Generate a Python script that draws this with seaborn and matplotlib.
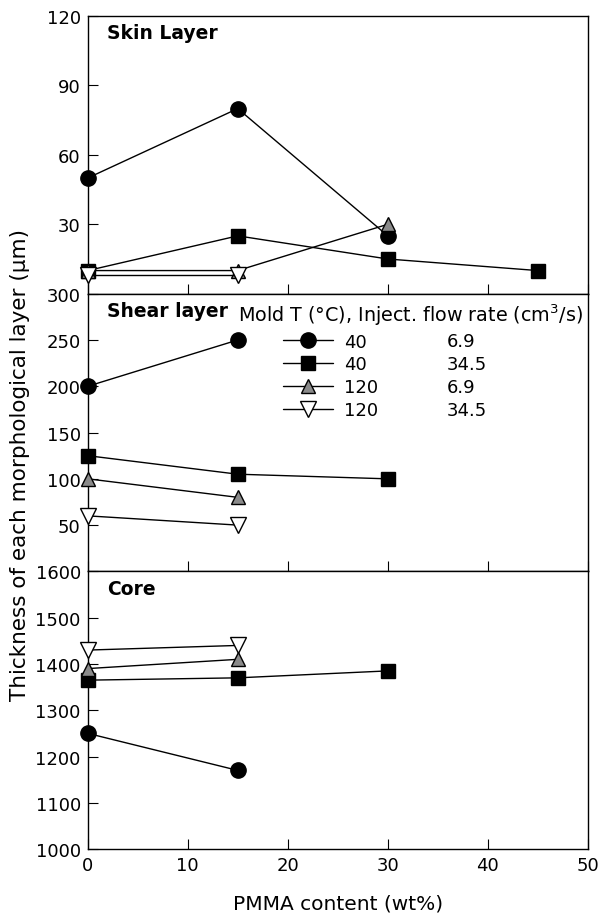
import seaborn as sns
import matplotlib.pyplot as plt

sns.set_style("white")
plt.rcParams['font.family'] = ['DejaVu Sans']
plt.rcParams['text.color'] = 'black'
plt.rcParams['axes.labelcolor'] = 'black'
plt.rcParams['xtick.color'] = 'black'
plt.rcParams['ytick.color'] = 'black'

# PMMA content (wt%) and layer thickness (um) per condition
# condition order: (40, 6.9), (40, 34.5), (120, 6.9), (120, 34.5)
mold_t = ["40", "40", "120", "120"]
flow_rate = ["6.9", "34.5", "6.9", "34.5"]

skin_x = [[0, 15, 30], [0, 15, 30, 45], [0, 15, 30], [0, 15]]
skin_y = [[50, 80, 25], [10, 25, 15, 10], [10, 10, 30], [8, 8]]

shear_x = [[0, 15], [0, 15, 30], [0, 15], [0, 15]]
shear_y = [[200, 250], [125, 105, 100], [100, 80], [60, 50]]

core_x = [[0, 15], [0, 15, 30], [0, 15], [0, 15]]
core_y = [[1250, 1170], [1365, 1370, 1385], [1390, 1410], [1430, 1440]]

markers = ["o", "s", "^", "v"]
face = ["black", "black", "#8a8a8a", "white"]
msize = [11, 9.5, 10.5, 11]

fig, axes = plt.subplots(3, 1, figsize=(6.01, 9.2), dpi=100, sharex=True)
fig.subplots_adjust(left=0.146, right=0.978, top=0.9815, bottom=0.076, hspace=0)

panels = [
    (skin_x, skin_y, (0, 120), [30, 60, 90, 120], "Skin Layer"),
    (shear_x, shear_y, (0, 300), [50, 100, 150, 200, 250, 300], "Shear layer"),
    (core_x, core_y, (1000, 1600), [1000, 1100, 1200, 1300, 1400, 1500, 1600], "Core"),
]

for ax, (xs, ys, ylim, yt, title) in zip(axes, panels):
    for i in range(4):
        sns.lineplot(x=xs[i], y=ys[i], ax=ax, color="black", lw=1,
                     marker=markers[i], markersize=msize[i],
                     markerfacecolor=face[i], markeredgecolor="black",
                     markeredgewidth=1, label=mold_t[i], legend=False,
                     clip_on=False, zorder=3)
    ax.set_ylim(*ylim)
    ax.set_yticks(yt)
    ax.set_xlim(0, 50)
    ax.set_xticks([0, 10, 20, 30, 40, 50])
    ax.tick_params(direction="in", length=7, width=0.8, labelsize=13,
                   left=True, bottom=True, pad=5)
    for s in ax.spines.values():
        s.set_color("black")
        s.set_linewidth(1)
    ax.text(0.038, 0.94, title, transform=ax.transAxes, fontsize=13.5,
            fontweight="bold", va="center", ha="left")
    ax.set_ylabel("")

# legend in the shear panel
ax = axes[1]
handles, labels = ax.get_legend_handles_labels()
ax.legend(handles, labels, loc="upper left", bbox_to_anchor=(0.39, 0.86),
          frameon=False, fontsize=13, handlelength=2.8, handletextpad=0.6,
          labelspacing=0.265, borderpad=0, borderaxespad=0)
ax.text(0.30, 0.925, "Mold T (°C), Inject. flow rate (cm$^3$/s)",
        transform=ax.transAxes, fontsize=13.8, va="center", ha="left")
for i, fr in enumerate(flow_rate):
    ax.text(0.718, 0.828 - i * 0.0817, fr, transform=ax.transAxes,
            fontsize=13, va="center", ha="left")

axes[2].set_xlabel("PMMA content (wt%)", fontsize=14.5, labelpad=14)
fig.text(0.034, 0.495, "Thickness of each morphological layer (μm)",
         rotation=90, fontsize=15.5, va="center", ha="center")

fig.savefig("out.png", dpi=100)
